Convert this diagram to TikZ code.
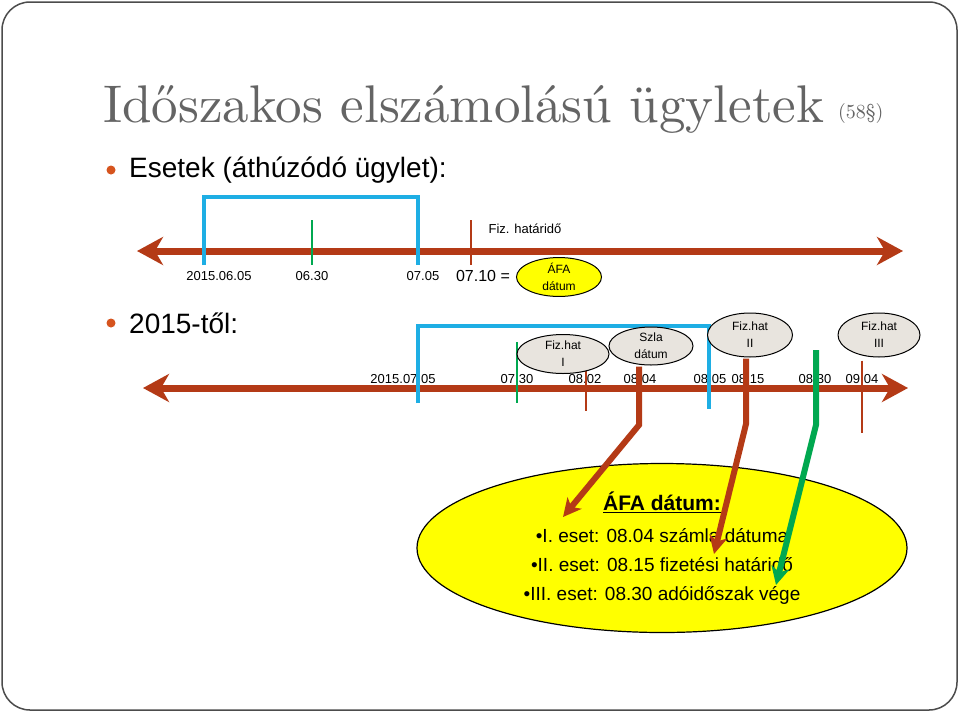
\documentclass[tikz,border=0pt]{standalone}
\usepackage{fontspec}
\setmainfont{Liberation Sans}
\newfontfamily\titlefont{lmroman10-regular}[Extension=.otf]
\usetikzlibrary{arrows.meta,shapes.geometric}
\definecolor{tlbrown}{RGB}{180,58,22}
\definecolor{tlblue}{RGB}{30,174,228}
\definecolor{tlgreen}{RGB}{0,168,80}
\definecolor{titlegray}{RGB}{100,100,100}
\definecolor{bulletc}{RGB}{214,84,30}
\definecolor{ellgray}{RGB}{232,228,222}
\definecolor{afayellow}{RGB}{255,255,0}
\tikzset{
  tline/.style={draw=tlbrown, line width=7pt,
    {Stealth[length=26pt,width=28pt,inset=8pt]}-{Stealth[length=26pt,width=28pt,inset=8pt]}},
  bluetick/.style={draw=tlblue, line width=3.5pt},
  thintick/.style={line width=2.5pt},
  conn/.style={line width=6pt, -{Stealth[length=18pt,width=18pt,inset=5pt]}},
  datelbl/.style={font=\fontsize{13}{15}\selectfont, inner sep=0},
  grayell/.style={ellipse, draw=black, line width=1pt, fill=ellgray, inner sep=0,
    align=center, font=\fontsize{12}{17}\selectfont},
  bulletdot/.style={circle, fill=bulletc, minimum size=9pt, inner sep=0},
  bullettext/.style={anchor=west, inner sep=0, font=\fontsize{28}{32}\selectfont}
}
\begin{document}
\begin{tikzpicture}[x=1pt,y=-1pt]
\useasboundingbox (0,0) rectangle (960,712);
\fill[white] (0,0) rectangle (960,712);
\draw[draw=black!70, line width=1.5pt, rounded corners=28pt] (2,2) rectangle (957,710);

% title
\node[anchor=base west, inner sep=0, text=titlegray,
  font=\titlefont\fontsize{53}{60}\selectfont] (title) at (103,122) {Időszakos elszámolású ügyletek};
\node[anchor=base west, inner sep=0, text=titlegray,
  font=\titlefont\fontsize{20}{24}\selectfont] (par) at (838,118) {(58§)};

% bullets
\node[bulletdot] (d1) at (111,170) {};
\node[bullettext] (b1) at (129,170) {Esetek (áthúzódó ügylet):};
\node[bulletdot] (d2) at (111,323) {};
\node[bullettext] (b2) at (129,323) {2015-től:};

% ---------- timeline 1 ----------
\coordinate (L1) at (137,251);
\coordinate (R1) at (903,251);
\draw[tline] (L1) -- (R1);
\coordinate (ba1) at (204,265);
\coordinate (ba2) at (204,197);
\coordinate (ba3) at (418,197);
\coordinate (ba4) at (418,265);
\draw[bluetick] (ba1) -- (ba2) -- (ba3) -- (ba4);
\coordinate (g1a) at (312,220);
\coordinate (g1b) at (312,265);
\draw[thintick, draw=tlgreen] (g1a) -- (g1b);
\coordinate (r1a) at (471,220);
\coordinate (r1b) at (471,265);
\draw[thintick, draw=tlbrown] (r1a) -- (r1b);

\node[datelbl] (l11) at (219,276) {2015.06.05};
\node[datelbl] (l12) at (312,276) {06.30};
\node[datelbl] (l13) at (423,276) {07.05};
\node[inner sep=0, font=\fontsize{16}{18}\selectfont] (l14) at (483,276) {07.10 =};
\node[datelbl] (fh) at (525,229) {Fiz. határidő};
\node[ellipse, draw=black, line width=1pt, fill=afayellow, minimum width=85pt, minimum height=38pt,
  inner sep=0, align=center, font=\fontsize{12}{17}\selectfont] (afa1) at (559,277) {ÁFA\\dátum};

% ---------- big ellipse ----------
\node[ellipse, draw=black, line width=1.2pt, fill=afayellow, minimum width=490pt, minimum height=169pt,
  inner sep=0, align=center, font=\fontsize{19}{29}\selectfont] (afabig) at (662,548)
  {{\fontsize{21}{29}\selectfont\bfseries\underline{ÁFA dátum:}}\\[3pt]
   •I. eset: 08.04 számla dátuma\\
   •II. eset: 08.15 fizetési határidő\\
   •III. eset: 08.30 adóidőszak vége};

% ---------- timeline 2 ----------
\coordinate (L2) at (143,388);
\coordinate (R2) at (908,388);
\draw[tline] (L2) -- (R2);

\node[datelbl] (l21) at (403,379) {2015.07.05};
\node[datelbl] (l22) at (517,379) {07.30};
\node[datelbl] (l23) at (585,379) {08.02};
\node[datelbl] (l24) at (640,379) {08.04};
\node[datelbl] (l25) at (710,379) {08.05};
\node[datelbl] (l26) at (748,379) {08.15};
\node[datelbl] (l27) at (815,379) {08.30};
\node[datelbl] (l28) at (862,379) {09.04};

\coordinate (bb1) at (418,403);
\coordinate (bb2) at (418,326);
\coordinate (bb3) at (709,326);
\coordinate (bb4) at (709,409);
\draw[bluetick] (bb1) -- (bb2) -- (bb3) -- (bb4);
\coordinate (g2a) at (517,342);
\coordinate (g2b) at (517,403);
\draw[thintick, draw=tlgreen] (g2a) -- (g2b);
\coordinate (r2a) at (586,371);
\coordinate (r2b) at (586,411);
\draw[thintick, draw=tlbrown] (r2a) -- (r2b);

% connectors to the big ellipse
\coordinate (k1) at (639,425);
\coordinate (t1) at (563,517);
\coordinate (k2) at (746,424);
\coordinate (t2) at (714,554);
\coordinate (g3a) at (816,350);
\coordinate (k3) at (816,425);
\coordinate (t3) at (776,585);
\coordinate (k4) at (862,433);

% gray ellipses
\node[grayell, minimum width=92pt, minimum height=39pt] (fizI) at (563,354) {Fiz.hat\\I};
\node[grayell, minimum width=84pt, minimum height=38pt] (szla) at (651,346) {Szla\\dátum};
\node[grayell, minimum width=85pt, minimum height=44pt] (fizII) at (750,335) {Fiz.hat\\II};
\node[grayell, minimum width=82pt, minimum height=44pt] (fizIII) at (879,335) {Fiz.hat\\III};

\draw[conn, draw=tlbrown] ([yshift=-1pt]szla.south -| k1) -- (k1) -- (t1);
\draw[conn, draw=tlbrown] ([yshift=-1pt]fizII.south -| k2) -- (k2) -- (t2);
\draw[conn, draw=tlgreen] (g3a) -- (k3) -- (t3);
\draw[thintick, draw=tlbrown] ([yshift=-3pt]fizIII.south -| k4) -- (k4);
\end{tikzpicture}
\end{document}
